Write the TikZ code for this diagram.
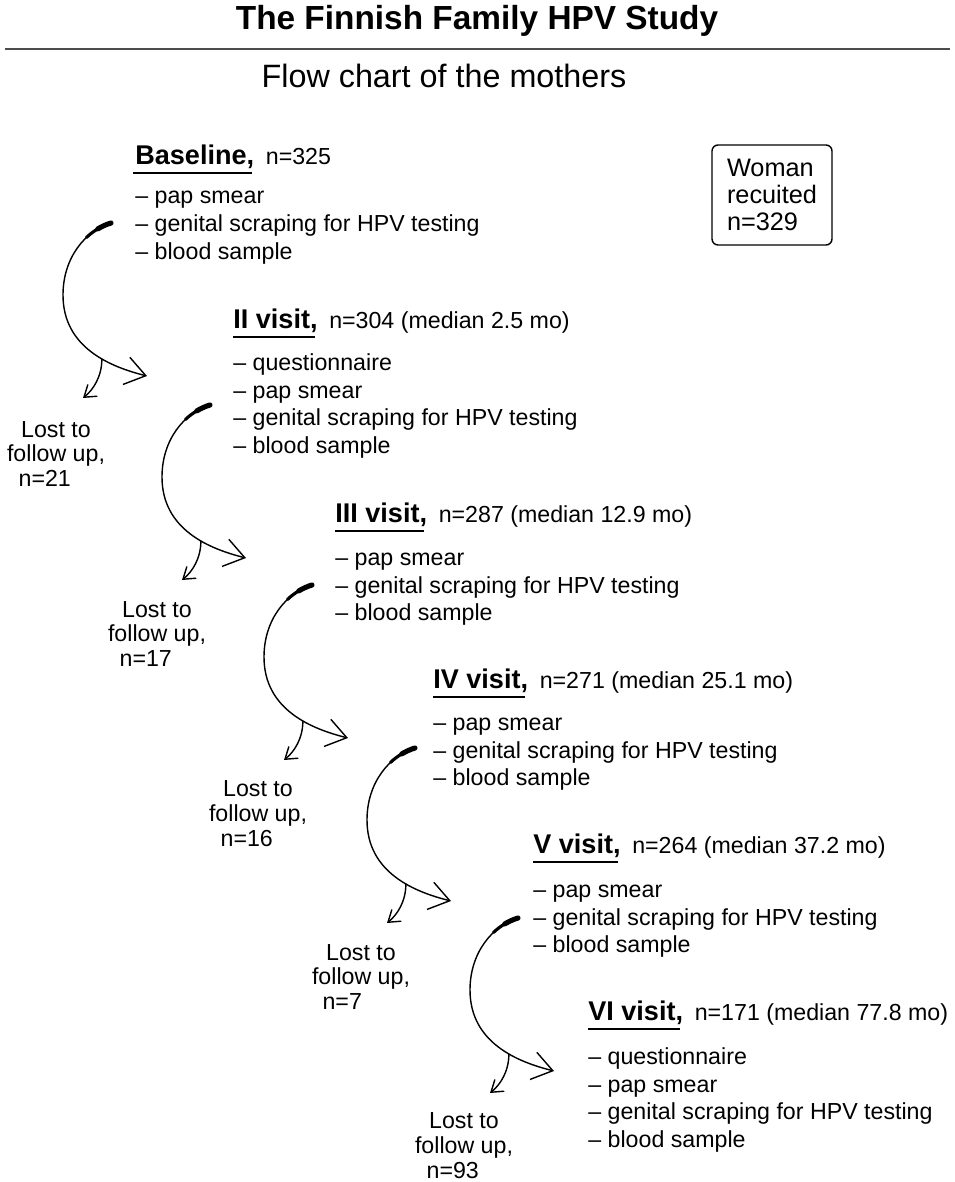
\documentclass[tikz,border=0pt]{standalone}
\usepackage{fontspec}
\setmainfont{Liberation Sans}
\usetikzlibrary{calc,arrows.meta}
% curved arrow from one visit to the next, with a branch down to the lost ones
\def\visitarrow(#1)(#2){%
	\coordinate (#2l) at ($(#1)+(-48,72)$);
	\coordinate (#2t) at ($(#1)+(36,153)$);
	\coordinate (#2x) at ($(#1)+(-28,175)$);
	\draw[flow, -{Straight Barb[length=4mm,width=5.6mm]}] (#1) .. controls ($(#1)+(-25,7.5)$) and ($(#2l)+(0,-38)$) .. (#2l) .. controls ($(#2l)+(0,53)$) and ($(#2t)+(-36,-9)$) .. (#2t) coordinate[pos=0.6] (#2b);
	\draw[line width=1.8pt, line cap=round] (#1) .. controls ($(#1)+(-8.75,2.63)$) and ($(#1)+(-17.3,7.6)$) .. ($(#1)+(-24.6,14.5)$);
	\draw[line width=2.9pt, line cap=round] (#1) .. controls ($(#1)+(-4.5,1.35)$) and ($(#1)+(-8.9,3.3)$) .. ($(#1)+(-13.2,5.9)$);
	\draw[flow, -{Straight Barb[length=2.2mm,width=3mm]}] (#2b) .. controls ($(#2b)+(0,18)$) and ($(#2x)+(10,-8)$) .. (#2x);
}

\begin{document}
\begin{tikzpicture}[x=0.02cm, y=-0.02cm,
	visit/.style={anchor=base west, inner sep=0, font=\fontsize{15.4}{18}\selectfont\bfseries},
	nval/.style={anchor=base west, inner sep=0, font=\fontsize{13.2}{15.76}\selectfont},
	items/.style={anchor=north west, inner sep=0, align=left, font=\fontsize{13.2}{15.76}\selectfont},
	lost/.style={align=center, inner sep=0, font=\fontsize{13.2}{14.2}\selectfont},
	ul/.style={line width=1.1pt},
	flow/.style={line width=0.8pt},
	box/.style={draw, line width=0.8pt, rounded corners=0.12cm, minimum width=2.4cm, minimum height=2cm, align=left, font=\fontsize{14.4}{15.6}\selectfont}]
		%%%%% START %%%%%
		\useasboundingbox (0,0) rectangle (954,1182);
		
		\node[anchor=base, font=\fontsize{19}{22}\selectfont\bfseries] (title) at (477,30) {The Finnish Family HPV Study};
		\draw[line width=1.2pt, color=black!70] (5,49) -- (950,49);
		\node[anchor=base, font=\fontsize{18.4}{22}\selectfont] (subtitle) at (444,88) {Flow chart of the mothers};
		
		\node[box] (woman) at (772,195) {Woman\\recuited\\n=329};
		
		% visits
		\node[visit] (v1) at (135,165) {Baseline,};
		\node[nval] (v1n) at ($(v1.base east)+(11,0)$) {n=325};
		\draw[ul] ($(v1.base west)+(-2,8)$) -- ($(v1.base east)+(-3,8)$);
		\node[items] (v1i) at (135,184) {\strut– pap smear\\– genital scraping for HPV testing\\– blood sample};
		
		\node[visit] (v2) at (233,328) {II visit,};
		\node[nval] (v2n) at ($(v2.base east)+(11,0)$) {n=304 (median 2.5 mo)};
		\draw[ul] ($(v2.base west)+(0,9)$) -- ($(v2.base east)+(-3,9)$);
		\node[items] (v2i) at (233,350.6) {\strut– questionnaire\\– pap smear\\– genital scraping for HPV testing\\– blood sample};
		
		\node[visit] (v3) at (335,522) {III visit,};
		\node[nval] (v3n) at ($(v3.base east)+(11,0)$) {n=287 (median 12.9 mo)};
		\draw[ul] ($(v3.base west)+(0,9)$) -- ($(v3.base east)+(-3,9)$);
		\node[items] (v3i) at (335,545.6) {\strut– pap smear\\– genital scraping for HPV testing\\– blood sample};
		
		\node[visit] (v4) at (433,688) {IV visit,};
		\node[nval] (v4n) at ($(v4.base east)+(11,0)$) {n=271 (median 25.1 mo)};
		\draw[ul] ($(v4.base west)+(0,9)$) -- ($(v4.base east)+(-3,9)$);
		\node[items] (v4i) at (433,710.6) {\strut– pap smear\\– genital scraping for HPV testing\\– blood sample};
		
		\node[visit] (v5) at (533,853) {V visit,};
		\node[nval] (v5n) at ($(v5.base east)+(11,0)$) {n=264 (median 37.2 mo)};
		\draw[ul] ($(v5.base west)+(0,9)$) -- ($(v5.base east)+(-3,9)$);
		\node[items] (v5i) at (533,877.6) {\strut– pap smear\\– genital scraping for HPV testing\\– blood sample};
		
		\node[visit] (v6) at (588,1020) {VI visit,};
		\node[nval] (v6n) at ($(v6.base east)+(11,0)$) {n=171 (median 77.8 mo)};
		\draw[ul] ($(v6.base west)+(0,9)$) -- ($(v6.base east)+(-3,9)$);
		\node[items] (v6i) at (588,1044.6) {\strut– questionnaire\\– pap smear\\– genital scraping for HPV testing\\– blood sample};
		
		% lost to follow up
		\node[lost] (lost1) at (56,454) {Lost to\\follow up,\\n=21\hspace*{0.45cm}};
		\node[lost] (lost2) at (157,634) {Lost to\\follow up,\\n=17\hspace*{0.45cm}};
		\node[lost] (lost3) at (258,814) {Lost to\\follow up,\\n=16\hspace*{0.45cm}};
		\node[lost] (lost4) at (361,977) {Lost to\\follow up,\\n=7\hspace*{0.75cm}};
		\node[lost] (lost5) at (464,1146) {Lost to\\follow up,\\n=93\hspace*{0.45cm}};
		
		% arrows
		\coordinate (s1) at (111,223);
		\coordinate (s2) at (210,405);
		\coordinate (s3) at (312,585);
		\coordinate (s4) at (415,748);
		\coordinate (s5) at (518,918);
		\visitarrow(s1)(a1)
		\visitarrow(s2)(a2)
		\visitarrow(s3)(a3)
		\visitarrow(s4)(a4)
		\visitarrow(s5)(a5)
		
		%%%%% END %%%%%
\end{tikzpicture}
\end{document}
